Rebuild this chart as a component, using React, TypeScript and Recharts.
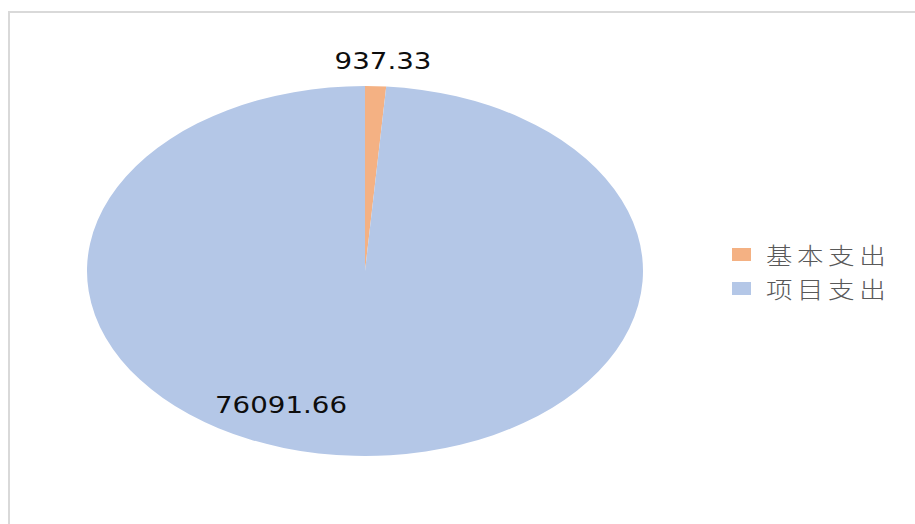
import { PieChart, Pie, Cell, Legend } from "recharts";

const names = ["基本支出", "项目支出"];
const values = [937.33, 76091.66];
const colors = ["#F4B183", "#B4C7E7"];

const data = names.map((name, i) => ({ name, value: values[i] }));

// chart is stretched horizontally in the reference, so squash the pie vertically
const CX = 365;
const CY = 271;
const R = 278;
const SQUASH = 185 / 278;
const MARGIN = 5; // recharts default chart margin, added to cx/cy

// label offsets from the pie centre (Excel "best fit" placement)
const labelOffsets = [
  { dx: 18, dy: -210 },
  { dx: -84, dy: 134 },
];

const renderLabel = (props: any) => {
  const { cx, cy, index, value } = props;
  const o = labelOffsets[index];
  return (
    <text
      transform={`translate(${cx + o.dx},${cy + o.dy}) scale(1.23,1)`}
      textAnchor="middle"
      dominantBaseline="central"
      fill="#0d0d0d"
      fontSize={22.5}
      fontFamily="DejaVu Sans, sans-serif"
    >
      {value.toFixed(2)}
    </text>
  );
};

const renderLegend = () => (
  <div style={{ display: "flex", flexDirection: "column", gap: 12 }}>
    {data.map((d, i) => (
      <div key={d.name} style={{ display: "flex", alignItems: "center", height: 22 }}>
        <span style={{ width: 19, height: 13, background: colors[i], display: "inline-block", marginRight: 15 }} />
        <span
          style={{
            display: "inline-block",
            transform: "scaleX(1.15)",
            transformOrigin: "left center",
            whiteSpace: "nowrap",
            fontFamily: "'Noto Sans CJK SC', sans-serif",
            fontSize: 23,
            letterSpacing: 4,
            color: "#595959",
            lineHeight: "22px",
            fontWeight: 300,
          }}
        >
          {d.name}
        </span>
      </div>
    ))}
  </div>
);

export default function App() {
  return (
    <div style={{ position: "absolute", left: 0, top: 0, width: 915, height: 524, background: "#fff", overflow: "hidden" }}>
      <style>{`path.recharts-sector { transform: scaleY(${SQUASH}); transform-origin: ${CX}px ${CY}px; }`}</style>
      <div
        style={{
          position: "absolute",
          left: 8,
          top: 11,
          width: 930,
          height: 540,
          borderTop: "2px solid #d9d9d9",
          borderLeft: "2px solid #d9d9d9",
        }}
      />
      <PieChart width={915} height={524} style={{ position: "absolute", left: 0, top: 0 }}>
        <Pie
          data={data}
          dataKey="value"
          nameKey="name"
          cx={CX - MARGIN}
          cy={CY - MARGIN}
          outerRadius={R}
          startAngle={90}
          endAngle={-270}
          stroke="none"
          label={renderLabel}
          labelLine={false}
          isAnimationActive={false}
        >
          {data.map((d, i) => (
            <Cell key={d.name} fill={colors[i]} />
          ))}
        </Pie>
        <Legend
          layout="vertical"
          content={renderLegend}
          wrapperStyle={{ position: "absolute", left: 732, top: 243, width: 180 }}
        />
      </PieChart>
    </div>
  );
}
